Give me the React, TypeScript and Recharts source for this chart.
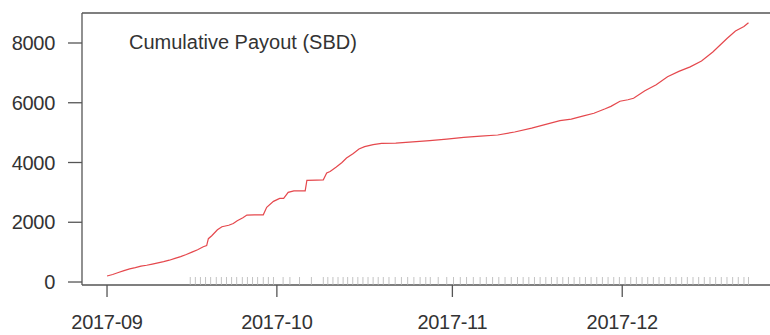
import React from 'react';
import { ComposedChart, Line, Scatter, XAxis, YAxis, ReferenceLine } from 'recharts';

// days since 2017-09-01
const payoutDays = [
  0, 1, 2, 3, 4, 5, 6, 7, 8, 9, 10, 11, 12, 13, 14, 15, 16, 17, 17.6, 17.9,
  18.5, 19.5, 20.3, 21.5, 22.3, 23, 24, 24.7, 26, 27.6, 28.2, 29.4, 30.5, 31.2, 32, 33,
  35, 35.3, 37, 38.2, 38.8, 39.4, 40.5, 41.5, 42.3, 43.5, 44.5, 45.5, 47, 48.5,
  51, 54, 57, 60, 63, 66, 69, 72, 75, 78, 80, 82, 84, 86, 88, 89, 90.6, 92, 93,
  95, 97, 99, 101, 103, 105, 107, 109.5, 111, 112.5, 113.3,
];
const payoutValues = [
  200, 250, 320, 380, 440, 480, 530, 560, 600, 640, 680, 730, 790, 850, 920, 1000, 1080, 1180, 1220, 1450,
  1550, 1750, 1850, 1900, 1960, 2050, 2150, 2240, 2250, 2250, 2500, 2700, 2800, 2800, 3000, 3050,
  3050, 3400, 3410, 3420, 3650, 3700, 3850, 4000, 4150, 4300, 4450, 4530, 4600, 4640,
  4650, 4690, 4730, 4780, 4840, 4880, 4920, 5020, 5150, 5300, 5400, 5450, 5550, 5650, 5800, 5880, 6050, 6100, 6150,
  6400, 6600, 6870, 7050, 7200, 7400, 7700, 8150, 8400, 8550, 8680,
];

// rug marks (days of individual payouts)
const rugDays = [
  14.7, 15.6, 16.5, 17.4, 18.3, 19.3, 20.2, 21.1, 22.0, 22.9, 23.9, 24.8, 25.7, 26.6, 27.6, 28.5, 29.4,
  31.1, 32.3, 34.0, 36.1,
  38.2, 39.0, 39.9, 40.8, 41.7, 42.5, 43.4, 44.3, 45.2, 46.1, 47.0, 47.9, 48.8, 49.8, 50.9, 52.0, 53.1,
  54.2, 55.3, 56.3, 57.1, 58.5, 60.0, 61.2, 62.4, 63.5, 64.7, 65.9, 67.0, 68.1, 69.2, 70.3, 71.4, 72.5,
  73.5, 74.5, 75.5, 76.5, 77.5, 78.5, 79.5, 80.5, 81.5, 82.5, 83.5, 84.5, 85.5, 86.5, 87.5, 88.5, 89.5,
  90.5, 91.5, 92.5, 93.5, 94.5, 95.5, 96.5, 97.5, 98.5, 99.5, 100.5, 101.5, 102.5, 103.5, 104.5, 105.5,
  106.5, 107.5, 108.5, 109.5, 110.5, 111.5, 112.5, 113.3,
];

const xTicks = [0, 30, 61, 91];
const xTickLabels = ['2017-09', '2017-10', '2017-11', '2017-12'];
const yTicks = [0, 2000, 4000, 6000, 8000];

const FONT = '"Liberation Sans", Arial, Helvetica, sans-serif';

const lineData = payoutDays.map((d, i) => ({ day: d, v: payoutValues[i] }));
const rugData = rugDays.map(d => ({ day: d, v: 0 }));

function RugTick(props: any) {
  const { cx, cy } = props;
  if (cx == null || cy == null) return null;
  return <line x1={cx} x2={cx} y1={cy + 3} y2={cy - 5} stroke="#b4b4b4" strokeWidth={0.8} />;
}

export default function App() {
  return (
    <div style={{ position: 'absolute', left: 0, top: 0, width: 770, height: 335, background: '#fff', fontFamily: FONT }}>
      <ComposedChart width={770} height={335} margin={{ top: 13, right: 0, left: 0, bottom: 0 }}>
        <XAxis
          dataKey="day"
          type="number"
          domain={[-4.42, 117.1]}
          allowDataOverflow
          ticks={xTicks}
          tickFormatter={(v: number) => xTickLabels[xTicks.indexOf(v)] ?? ''}
          height={50}
          tickSize={12}
          tickMargin={18}
          axisLine={{ stroke: '#555', strokeWidth: 1.3 }}
          tickLine={{ stroke: '#555', strokeWidth: 1.3 }}
          tick={{ fill: '#333', fontSize: 20, fontFamily: FONT, letterSpacing: -0.3 }}
        />
        <YAxis
          type="number"
          domain={[-100, 9004]}
          allowDataOverflow
          ticks={yTicks}
          width={82}
          tickSize={14}
          tickMargin={13}
          axisLine={{ stroke: '#555', strokeWidth: 1.3 }}
          tickLine={{ stroke: '#555', strokeWidth: 1.3 }}
          tick={{ fill: '#333', fontSize: 20, fontFamily: FONT, letterSpacing: -0.3 }}
        />
        <ReferenceLine y={9004} stroke="#555" strokeWidth={1.3} />
        <Scatter data={rugData} dataKey="v" shape={<RugTick />} isAnimationActive={false} />
        <Line
          data={lineData}
          dataKey="v"
          type="linear"
          stroke="#e5484d"
          strokeWidth={1.2}
          dot={false}
          isAnimationActive={false}
        />
      </ComposedChart>
      <div
        style={{
          position: 'absolute',
          left: 129,
          top: 32,
          fontSize: 20,
          lineHeight: '20px',
          color: '#333',
          whiteSpace: 'nowrap',
        }}
      >
        Cumulative Payout (SBD)
      </div>
    </div>
  );
}
